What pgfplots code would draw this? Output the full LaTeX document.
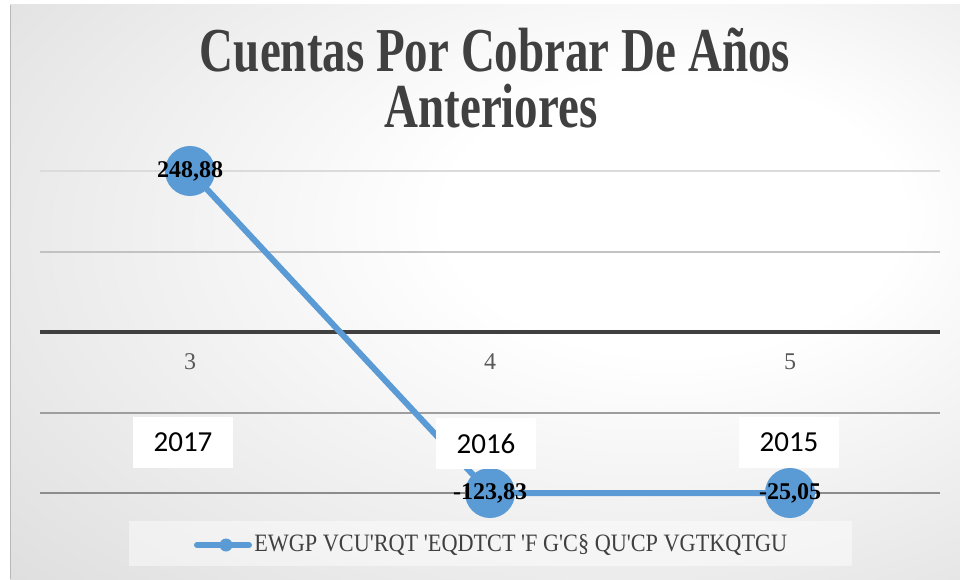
\documentclass[border=0pt]{standalone}
\usepackage{fontspec}
\setmainfont{Liberation Serif}
\newfontfamily\carlito{Carlito}
\usepackage{graphicx}
\usepackage{pgfplots}
\pgfplotsset{compat=1.18}
\definecolor{serie}{HTML}{5B9BD5}
\pgfdeclareradialshading{fondo}{\pgfpoint{12bp}{8bp}}{color(0bp)=(white); color(12bp)=(white); color(70bp)=(black!25)}
\tikzset{ejex/.style={text=black!65, font=\fontsize{18}{18}\selectfont, yshift=-22.5pt}}

\begin{document}
\begin{tikzpicture}[x=0.75pt, y=0.75pt]
% lienzo y fondo degradado
\fill[white] (0,0) rectangle (960,579);
\path[shading=fondo] (10,0) rectangle (960,574);
\draw[black!28, line width=1pt] (10.5,0) -- (10.5,574);
\coordinate (esq) at (40,86);

% titulo
\node[anchor=base, text=black!75, font=\bfseries\fontsize{35.25}{36}\selectfont]
  at (495,507) {\scalebox{1}[1.33]{Cuentas Por Cobrar De Años}};
\node[anchor=base, text=black!75, font=\bfseries\fontsize{35.25}{36}\selectfont]
  at (491,452) {\scalebox{1}[1.33]{Anteriores}};

\begin{axis}[
  at={(esq)}, anchor=south west,
  width=675pt, height=241.5pt, scale only axis,
  xmin=0.5, xmax=3.5, ymin=-248.88, ymax=248.88,
  hide axis,
  clip=false,
]
% lineas de cuadricula
\addplot[forget plot, draw=black!14, line width=1.5pt] coordinates {(0.5,248.88) (3.5,248.88)};
\addplot[forget plot, draw=black!24, line width=1.5pt] coordinates {(0.5,124.44) (3.5,124.44)};
\addplot[forget plot, draw=black!38, line width=1.5pt] coordinates {(0.5,-124.44) (3.5,-124.44)};
\addplot[forget plot, draw=black!45, line width=1.5pt] coordinates {(0.5,-248.88) (3.5,-248.88)};
\addplot[forget plot, draw=black!75, line width=3pt] coordinates {(0.5,0) (3.5,0)};
% etiquetas del eje x
\node[ejex] at (axis cs:1,0) {3};
\node[ejex] at (axis cs:2,0) {4};
\node[ejex] at (axis cs:3,0) {5};
% serie
\addplot[serie, line width=4.5pt, mark=*, mark size=16.5pt,
  mark options={solid, fill=serie, draw=none},
  nodes near coords, point meta=explicit symbolic,
  every node near coord/.append style={anchor=center, text=black,
    font=\bfseries\fontsize{18}{18}\selectfont}]
  coordinates {(1,248.88) [248,88] (2,-248.88) [-123,83] (3,-248.88) [-25,05]};
\end{axis}

% cuadros de los años
\foreach \xx/\yy/\an in {183/137/2017, 486/135.5/2016, 789/137/2015}
  \node[fill=white, minimum width=75pt, minimum height=38.25pt, inner sep=0pt,
    font=\carlito\fontsize{21.75}{22}\selectfont] at (\xx,\yy) {\raisebox{-1.5pt}{\an}};

% leyenda
\fill[white, opacity=0.45] (129,13) rectangle (852,58);
\draw[serie, line width=4.5pt, line cap=round] (197,34) -- (249,34);
\fill[serie] (226,34) circle (6.5);
\node[anchor=west, inner sep=0pt, text=black!75, font=\fontsize{18.75}{19}\selectfont]
  at (254,34) {\scalebox{0.89}[1]{EWGP VCU\textquotesingle RQT \textquotesingle EQDTCT \textquotesingle F G\textquotesingle C§ QU\textquotesingle CP VGTKQTGU}};
\end{tikzpicture}
\end{document}
